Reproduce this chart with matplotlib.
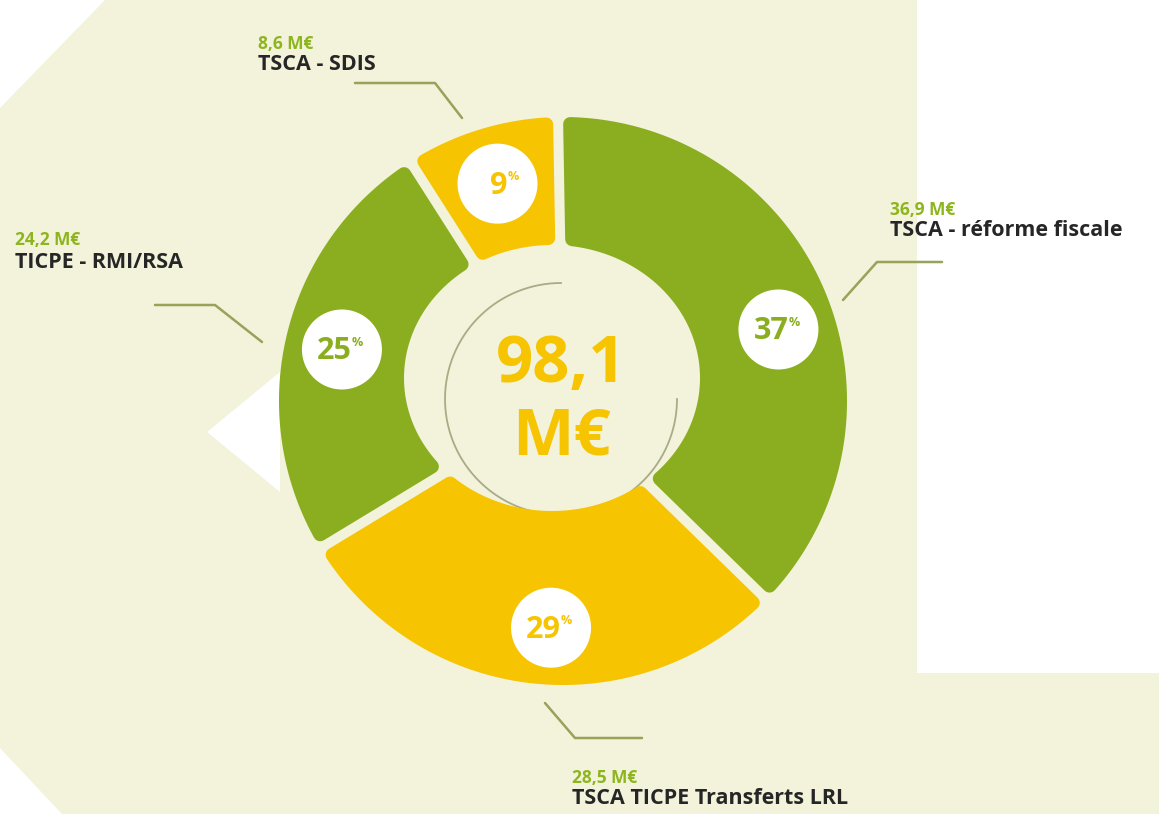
import numpy as np
import matplotlib.pyplot as plt
from matplotlib.patches import Polygon, Circle

# data
labels = ['TSCA - réforme fiscale', 'TSCA TICPE Transferts LRL', 'TICPE - RMI/RSA', 'TSCA - SDIS']
values = [36.9, 28.5, 24.2, 8.6]
amounts = ['36,9 M€', '28,5 M€', '24,2 M€', '8,6 M€']
pcts = ['37', '29', '25', '9']
total_txt = ['98,1', 'M€']

GREEN = '#8aae1f'
YELLOW = '#f6c400'
BG = '#f3f2da'
DARK = '#262626'
colors = [GREEN, YELLOW, GREEN, YELLOW]

W, H = 1159, 814
def Y(y):
    return H - y

fig = plt.figure(figsize=(W / 100, H / 100), dpi=100)
ax = fig.add_axes([0, 0, 1, 1])
ax.set_xlim(0, W)
ax.set_ylim(0, H)
ax.set_aspect('equal')
ax.axis('off')
fig.patch.set_facecolor('white')

# background shape
bg = [(105, 0), (917, 0), (917, 673), (W, 673), (W, H), (62, H), (0, 748), (0, 108)]
ax.add_patch(Polygon([(x, Y(y)) for x, y in bg], closed=True, fc=BG, ec='none', zorder=0))
tri = [(207, 432), (280, 372), (280, 492)]
ax.add_patch(Polygon([(x, Y(y)) for x, y in tri], closed=True, fc='white', ec='none', zorder=1))

# ring geometry
C1 = np.array([563.0, Y(401)])
R = 284.0
C2 = np.array([552.0, Y(378)])
EA, EB = 148.0, 133.0
gap_half = 5.0
rnd = 7.0
badge_r = 227.0
badge_shift = [-5.0, 3.5, 0.0, 0.0]   # degrees


def hit_ellipse(p0, u, a, b):
    q0 = np.array([(p0[0] - C2[0]) / a, (p0[1] - C2[1]) / b])
    v = np.array([u[0] / a, u[1] / b])
    A = v @ v
    B = 2 * (q0 @ v)
    Cc = q0 @ q0 - 1
    t = (-B + np.sqrt(B * B - 4 * A * Cc)) / (2 * A)
    return p0 + t * u


total = sum(values)
start = np.deg2rad(91)
bounds = [start]
for v in values:
    bounds.append(bounds[-1] - 2 * np.pi * v / total)

for i, v in enumerate(values):
    t0, t1 = bounds[i], bounds[i + 1]
    s = gap_half + rnd
    Ro = R - rnd
    a0 = t0 - np.arcsin(s / Ro)
    a1 = t1 + np.arcsin(s / Ro)
    outer = [C1 + Ro * np.array([np.cos(a), np.sin(a)]) for a in np.linspace(a0, a1, 120)]
    u0 = np.array([np.cos(t0), np.sin(t0)])
    n0 = np.array([np.sin(t0), -np.cos(t0)])
    u1 = np.array([np.cos(t1), np.sin(t1)])
    n1 = np.array([-np.sin(t1), np.cos(t1)])
    ea, eb = EA + rnd, EB + rnd
    p_start = hit_ellipse(C1 + s * n0, u0, ea, eb)
    p_end = hit_ellipse(C1 + s * n1, u1, ea, eb)
    ph_end = np.arctan2((p_end[1] - C2[1]) / eb, (p_end[0] - C2[0]) / ea)
    ph_start = np.arctan2((p_start[1] - C2[1]) / eb, (p_start[0] - C2[0]) / ea)
    while ph_start <= ph_end:
        ph_start += 2 * np.pi
    inner = [C2 + np.array([ea * np.cos(p), eb * np.sin(p)]) for p in np.linspace(ph_end, ph_start, 120)]
    ax.add_patch(Polygon(np.array(outer + inner), closed=True, fc=colors[i], ec=colors[i],
                         lw=2 * rnd * 0.72, joinstyle='round', zorder=3))

    # percentage badge
    tm = (t0 + t1) / 2 + np.deg2rad(badge_shift[i])
    c = C1 + badge_r * np.array([np.cos(tm), np.sin(tm)])
    ax.add_patch(Circle(c, 40, fc='white', ec='none', zorder=4))
    ax.text(c[0] + 10, c[1] - 2, pcts[i], ha='right', va='center', fontsize=22,
            fontweight='bold', family='Open Sans', color=colors[i], zorder=5)
    ax.text(c[0] + 10, c[1] + 7, '%', ha='left', va='center', fontsize=9,
            fontweight='bold', family='Open Sans', color=colors[i], zorder=5)

# inner thin circle (open at top right)
ph = np.linspace(np.pi / 2, 2 * np.pi, 200)
ax.plot(C1[0] - 2 + 116 * np.cos(ph), C1[1] + 2 + 116 * np.sin(ph), color='#a9ab86', lw=1.3, zorder=2)

# total in the centre
ax.text(561, Y(366), total_txt[0], ha='center', va='center', fontsize=47, fontweight='bold',
        family='Open Sans', color=YELLOW, zorder=5)
ax.text(561, Y(438), total_txt[1], ha='center', va='center', fontsize=47, fontweight='bold',
        family='Open Sans', color=YELLOW, zorder=5)

# callouts: (text x, amount y, name y, leader line points)
callouts = [
    (890, 210, 231, [(942, 262), (877, 262), (843, 300)]),
    (572, 778, 799, [(545, 703), (575, 738), (642, 738)]),
    (15, 240, 262, [(155, 305), (215, 305), (262, 342)]),
    (258, 44, 64, [(355, 83), (435, 83), (462, 118)]),
]
for i, (tx, ya, yn, line) in enumerate(callouts):
    ax.text(tx, Y(ya), amounts[i], ha='left', va='center', fontsize=12.5, fontweight='bold',
            family='Open Sans', color='#8db51e', zorder=5)
    ax.text(tx, Y(yn), labels[i], ha='left', va='center', fontsize=15.5, fontweight='bold',
            family='Open Sans', color=DARK, zorder=5)
    xs = [p[0] for p in line]
    ys = [Y(p[1]) for p in line]
    ax.plot(xs, ys, color='#9aa15a', lw=1.8, solid_capstyle='round', zorder=2)

plt.savefig('out.png', dpi=100, facecolor=fig.get_facecolor())
